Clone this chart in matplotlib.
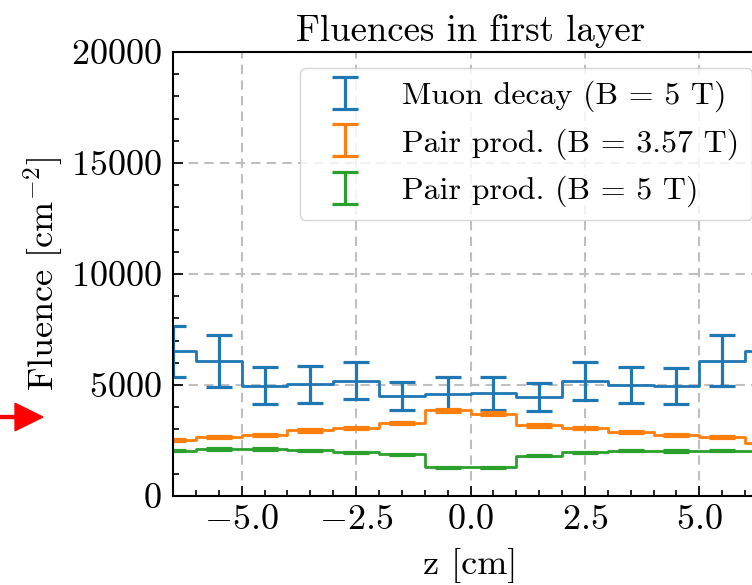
import numpy as np
import matplotlib
matplotlib.use("Agg")
import matplotlib.pyplot as plt
from matplotlib.patches import FancyArrow

plt.rcParams['font.family'] = ['cmr10', 'DejaVu Serif']
plt.rcParams['mathtext.fontset'] = 'cm'
plt.rcParams['axes.formatter.use_mathtext'] = True
plt.rcParams['axes.unicode_minus'] = True

# bin centres [cm]
z = [-6.5, -5.5, -4.5, -3.5, -2.5, -1.5, -0.5, 0.5, 1.5, 2.5, 3.5, 4.5, 5.5, 6.5]

muon = [6510, 6090, 4970, 5030, 5200, 4490, 4610, 4620, 4470, 5200, 5000, 4950, 6100, 6510]
muon_err = [1160, 1160, 820, 820, 850, 630, 730, 760, 620, 855, 820, 820, 1160, 1160]

pair357 = [2545, 2650, 2740, 2955, 3060, 3300, 3860, 3710, 3180, 3060, 2880, 2730, 2650, 2380]
pair357_err = [45, 45, 45, 50, 50, 50, 60, 60, 50, 50, 50, 45, 45, 45]

pair5 = [2045, 2110, 2110, 2060, 1970, 1880, 1290, 1290, 1820, 1970, 2045, 2030, 2045, 2045]
pair5_err = [35, 35, 35, 35, 35, 35, 30, 30, 35, 35, 35, 35, 35, 35]

labels = ["Muon decay (B = 5 T)", "Pair prod. (B = 3.57 T)", "Pair prod. (B = 5 T)"]
colors = ["#1f77b4", "#ff7f0e", "#2ca02c"]

fig = plt.figure(figsize=(7.52, 5.85), dpi=100)
ax = fig.add_axes([0.2301, 0.1521, 0.7912, 0.759])

series = [(muon, muon_err), (pair357, pair357_err), (pair5, pair5_err)]
for (vals, errs), lab, col in zip(series, labels, colors):
    ax.step(z, vals, where='mid', color=col, lw=2.0)
    ax.errorbar(z, vals, yerr=errs, fmt='none', ecolor=col, elinewidth=2.3,
                capsize=9.7, capthick=2.3, label=lab)

ax.set_xlim(-6.5, 6.5)
ax.set_ylim(0, 20000)
ax.set_xticks([-5.0, -2.5, 0.0, 2.5, 5.0])
ax.set_yticks([0, 5000, 10000, 15000, 20000])
ax.set_xticks(np.arange(-6.5, 6.6, 0.5), minor=True)
ax.set_yticks(np.arange(0, 20001, 1000), minor=True)
ax.xaxis.set_major_formatter(matplotlib.ticker.FormatStrFormatter('$%.1f$'))
ax.yaxis.set_major_formatter(matplotlib.ticker.FormatStrFormatter('$%d$'))

ax.tick_params(which='both', direction='in', labelsize=26, width=1.2)
ax.tick_params(which='major', length=7)
ax.tick_params(axis='x', which='major', pad=6)
ax.tick_params(axis='y', which='major', pad=8)
ax.tick_params(which='minor', length=4)
for s in ax.spines.values():
    s.set_linewidth(1.5)

ax.grid(True, which='major', ls=(0, (4.5, 3)), color='#bfbfbf', lw=1.5)
ax.set_axisbelow(True)

ax.set_title("Fluences in first layer", fontsize=26.5, pad=8)
ax.set_xlabel("z [cm]", fontsize=26, labelpad=9)
ax.set_ylabel("Fluence [cm$^{-2}$]", fontsize=26, labelpad=4)

ax.legend(loc='upper right', fontsize=23, fancybox=True)

fig.patches.append(FancyArrow(0.0, 1 - 417/585, 0.02, 0, width=0.005,
                              head_width=0.047, head_length=0.037,
                              length_includes_head=False, color='red',
                              transform=fig.transFigure, figure=fig))

fig.savefig("out.png", dpi=100)
